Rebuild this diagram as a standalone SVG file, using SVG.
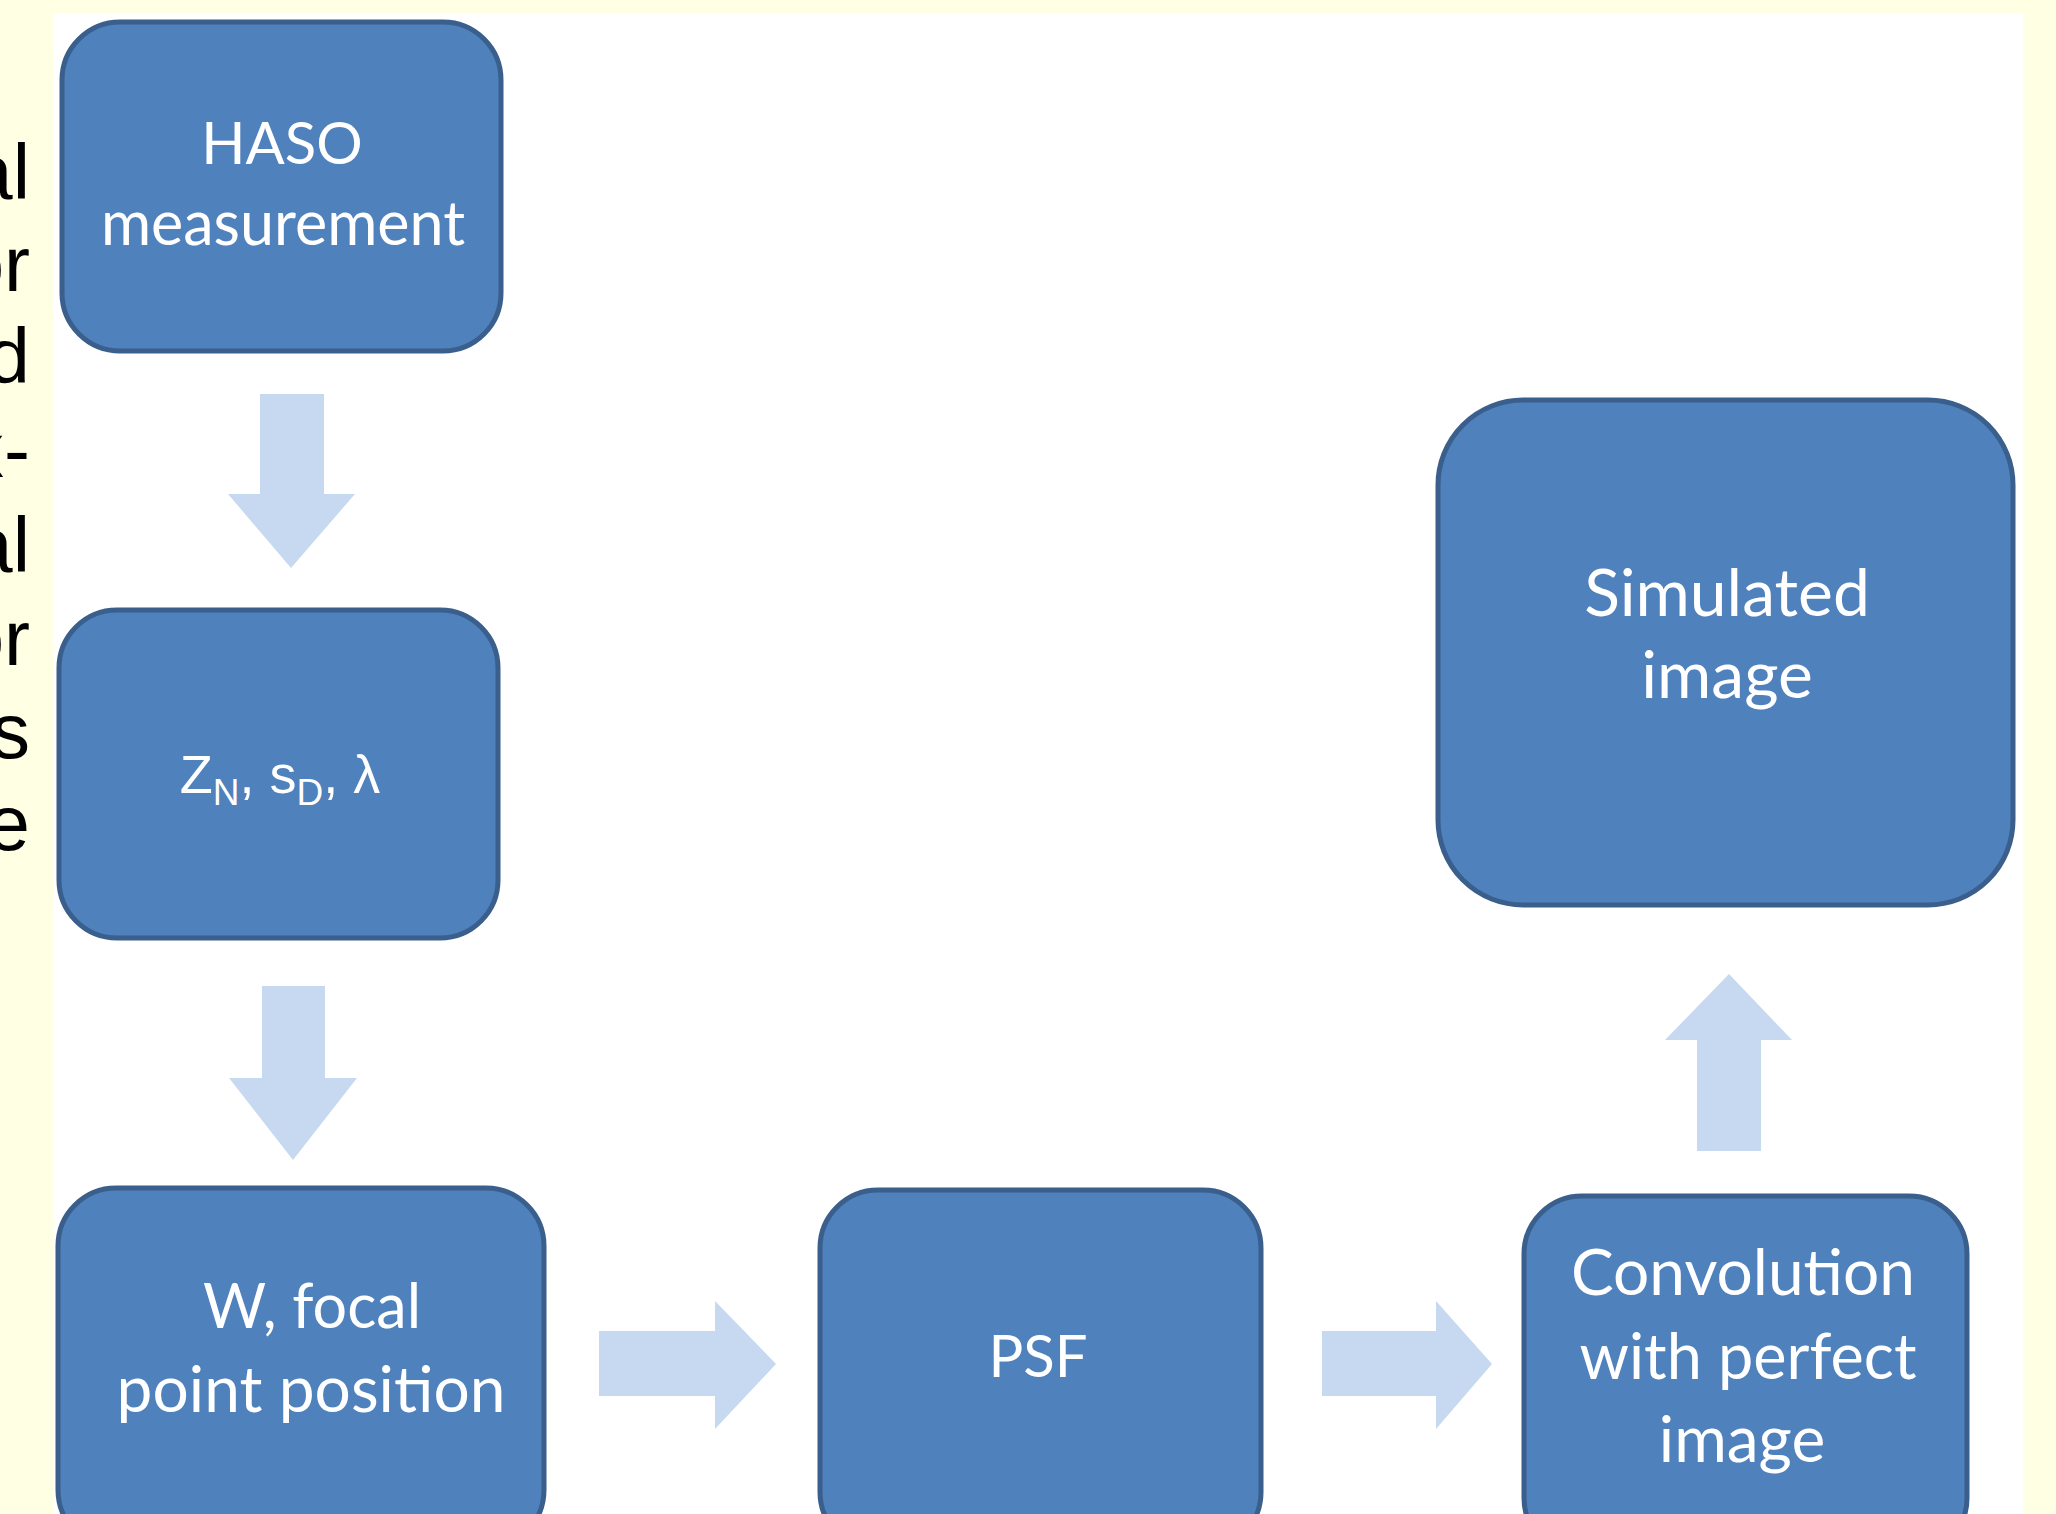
<svg xmlns="http://www.w3.org/2000/svg" width="2056" height="1514" viewBox="0 0 2056 1514">
  <style>
    .box { fill: #4F81BD; stroke: #3A5F8C; stroke-width: 5; }
    .lbl { fill: #FFFFFF; font-family: Lato, "Open Sans", sans-serif; font-size: 58px; text-anchor: middle; }
    .side { fill: #000000; font-family: "Liberation Sans", Arial, sans-serif; font-size: 78px; text-anchor: end; }
    .arr { fill: #C6D9F1; }
  </style>
  <rect x="0" y="0" width="2056" height="1514" fill="#FFFFE3"/>
  <rect x="53" y="13" width="1970" height="1501" fill="#FFFFFF"/>
  <g id="side-text">
    <text class="side" x="30" y="199">al</text>
    <text class="side" x="30" y="291">or</text>
    <text class="side" x="30" y="383">d</text>
    <text class="side" x="30" y="477">x-</text>
    <text class="side" x="30" y="572">al</text>
    <text class="side" x="30" y="665">or</text>
    <text class="side" x="30" y="758">s</text>
    <text class="side" x="30" y="850">e</text>
  </g>
  <g id="connectors">
    <polygon class="arr" points="260,394 324,394 324,494 355,494 291,568 228,494 260,494"/>
    <polygon class="arr" points="262,986 325,986 325,1078 357,1078 293,1160 229,1078 262,1078"/>
    <polygon class="arr" points="599,1331 715,1331 715,1301 776,1364 715,1429 715,1396 599,1396"/>
    <polygon class="arr" points="1322,1331 1436,1331 1436,1301 1492,1364 1436,1429 1436,1396 1322,1396"/>
    <polygon class="arr" points="1697,1151 1761,1151 1761,1040 1792,1040 1729,974 1665,1040 1697,1040"/>
  </g>
  <g id="haso">
    <rect class="box" x="62" y="22" width="439" height="329" rx="58" ry="58"/>
    <text class="lbl" x="282" y="164">HASO</text>
    <text class="lbl" x="283" y="245" style="font-size:61px">measurement</text>
  </g>
  <g id="params">
    <rect class="box" x="59" y="610" width="439" height="328" rx="58" ry="58"/>
    <text class="lbl" x="280" y="793" style="font-family:'Liberation Sans', Arial, sans-serif; font-size:54px">Z<tspan style="font-size:37px" dy="12">N</tspan><tspan dy="-12">, s</tspan><tspan style="font-size:37px" dy="12">D</tspan><tspan dy="-12">, λ</tspan></text>
  </g>
  <g id="wfocal">
    <rect class="box" x="58" y="1188" width="486" height="360" rx="58" ry="58"/>
    <text class="lbl" x="312" y="1328" style="font-size:61px">W, focal</text>
    <text class="lbl" x="311" y="1412" style="font-size:64px">point position</text>
  </g>
  <g id="psf">
    <rect class="box" x="820" y="1190" width="441" height="360" rx="58" ry="58"/>
    <text class="lbl" x="1038" y="1377">PSF</text>
  </g>
  <g id="convolution">
    <rect class="box" x="1524" y="1196" width="443" height="360" rx="58" ry="58"/>
    <text class="lbl" x="1743" y="1295" style="font-size:64px">Convolution</text>
    <text class="lbl" x="1748" y="1379" style="font-size:63px">with perfect</text>
    <text class="lbl" x="1742" y="1462" style="font-size:64px">image</text>
  </g>
  <g id="simulated">
    <rect class="box" x="1438" y="400" width="575" height="505" rx="85" ry="85"/>
    <text class="lbl" x="1727" y="616" style="font-size:66px">Simulated</text>
    <text class="lbl" x="1727" y="698" style="font-size:66px">image</text>
  </g>
</svg>
